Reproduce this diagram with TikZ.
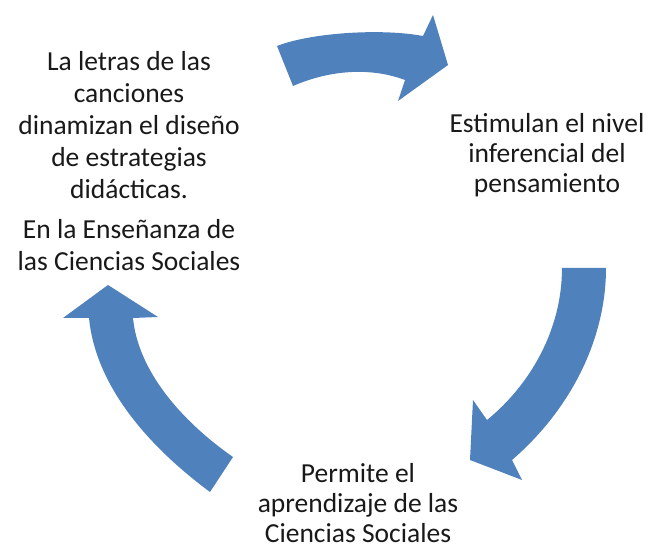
\documentclass[tikz,border=0pt]{standalone}
\usepackage{fontspec}
\setmainfont{Carlito}
\definecolor{cycleblue}{RGB}{79,129,189}

\begin{document}
\begin{tikzpicture}[x=1pt,y=-1pt,
  cyclearrow/.style={fill=cycleblue,draw=none},
  caption/.style={align=center,inner sep=0pt,anchor=north,text=black!90,font=\fontsize{27.5}{30}\selectfont}]
\useasboundingbox (0,0) rectangle (657,545);

% Draw the three curved arrows of the cycle
\fill[cyclearrow] (277,46) .. controls (310,33) and (380,28) .. (423,36) -- (433,15) -- (448,65)
  -- (398,101) -- (405,80) .. controls (370,67) and (330,70) .. (293,86) -- cycle;
\fill[cyclearrow] (562,268) -- (606,268) .. controls (606,340) and (570,410) .. (512,460)
  -- (522,480) -- (470,460) -- (473,400) -- (487,420) .. controls (530,385) and (562,330) .. (562,268) -- cycle;
\fill[cyclearrow] (210,492) .. controls (140,440) and (95,380) .. (89,318) -- (63,318) -- (108,285)
  -- (158,317) -- (133,318) .. controls (138,370) and (180,420) .. (233,457) -- cycle;

% Texts of the cycle
\node[caption,font=\fontsize{27.5}{32}\selectfont] (lyrics) at (129,51) {La letras de las\\canciones\\dinamizan el diseño\\de estrategias\\didácticas.\\[8pt]En la Enseñanza de\\las Ciencias Sociales};
\node[caption] (inference) at (547,113) {Estimulan el nivel\\inferencial del\\pensamiento};
\node[caption] (learning) at (358,463) {Permite el\\aprendizaje de las\\Ciencias Sociales};
\end{tikzpicture}
\end{document}
